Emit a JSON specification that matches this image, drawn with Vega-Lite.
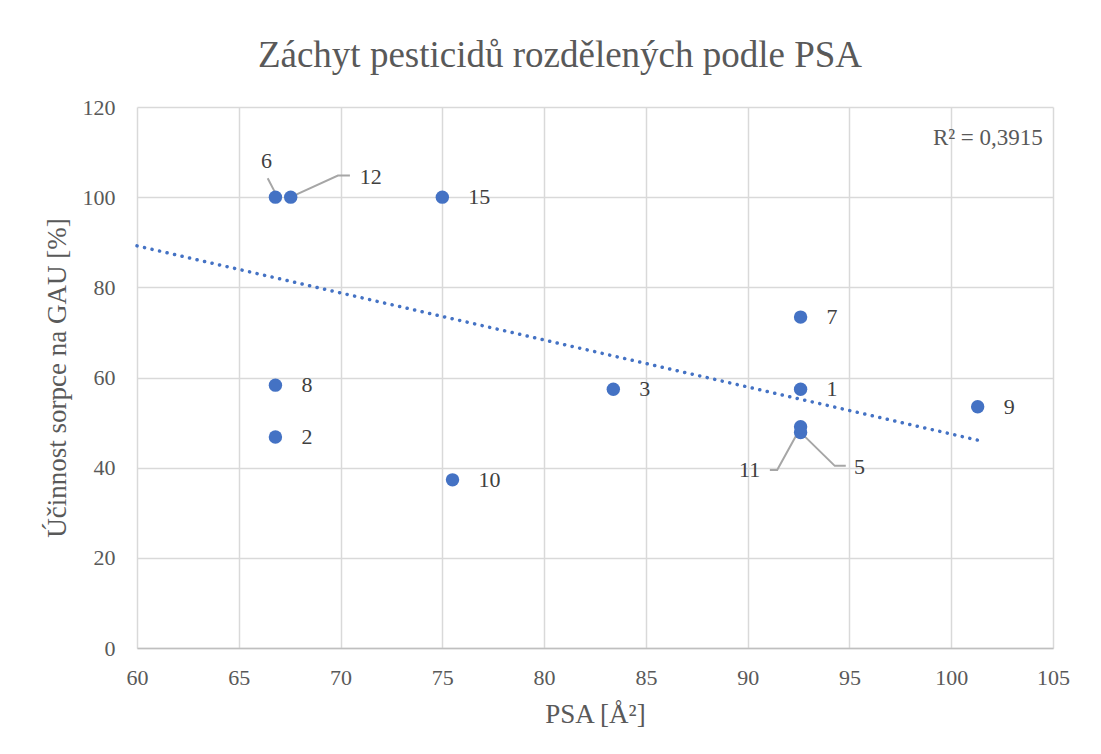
{
  "$schema": "https://vega.github.io/schema/vega-lite/v6.json",
  "width": 916,
  "height": 541,
  "autosize": {"type": "none"},
  "padding": {"left": 137, "top": 107, "right": 48, "bottom": 106},
  "background": "white",
  "config": {
    "font": "Liberation Serif",
    "view": {"stroke": null},
    "axis": {
      "gridColor": "#d9d9d9",
      "gridWidth": 1.5,
      "ticks": false,
      "labelFont": "Liberation Serif",
      "labelFontSize": 22,
      "labelColor": "#595959",
      "labelFlush": false,
      "titleFont": "Liberation Serif",
      "titleFontSize": 27,
      "titleFontWeight": "normal",
      "titleColor": "#595959"
    }
  },
  "title": {
    "text": "Záchyt pesticidů rozdělených podle PSA",
    "font": "Liberation Serif",
    "fontSize": 37,
    "fontWeight": "normal",
    "color": "#595959",
    "anchor": "middle",
    "dx": -35,
    "offset": 21
  },
  "datasets": {
    "points": [
      {"id": "1", "psa": 92.6, "u": 57.4},
      {"id": "2", "psa": 66.8, "u": 46.8},
      {"id": "3", "psa": 83.4, "u": 57.4},
      {"id": "5", "psa": 92.6, "u": 47.8},
      {"id": "6", "psa": 66.8, "u": 100},
      {"id": "7", "psa": 92.6, "u": 73.4},
      {"id": "8", "psa": 66.8, "u": 58.3},
      {"id": "9", "psa": 101.3, "u": 53.5},
      {"id": "10", "psa": 75.5, "u": 37.3},
      {"id": "11", "psa": 92.6, "u": 49.1},
      {"id": "12", "psa": 67.55, "u": 100},
      {"id": "15", "psa": 75.0, "u": 100}
    ],
    "trend": [
      {"psa": 60, "u": 89.2},
      {"psa": 101.3, "u": 46.1}
    ],
    "rsq": [
      {"psa": 101.8, "u": 113.1, "t": "R² = 0,3915"}
    ],
    "leaders": [
      {"g": "6", "o": 1, "psa": 66.42, "u": 104.2},
      {"g": "6", "o": 2, "psa": 66.8, "u": 100.9},
      {"g": "12", "o": 1, "psa": 70.46, "u": 104.8},
      {"g": "12", "o": 2, "psa": 69.87, "u": 104.8},
      {"g": "12", "o": 3, "psa": 67.6, "u": 100.1},
      {"g": "11", "o": 1, "psa": 91.09, "u": 39.5},
      {"g": "11", "o": 2, "psa": 91.45, "u": 39.5},
      {"g": "11", "o": 3, "psa": 92.6, "u": 48.9},
      {"g": "5", "o": 1, "psa": 94.82, "u": 40.4},
      {"g": "5", "o": 2, "psa": 94.28, "u": 40.4},
      {"g": "5", "o": 3, "psa": 92.65, "u": 47.6}
    ]
  },
  "encoding": {
    "x": {
      "field": "psa",
      "type": "quantitative",
      "scale": {"domain": [60, 105], "nice": false, "zero": false},
      "axis": {
        "title": "PSA [Å²]",
        "values": [60, 65, 70, 75, 80, 85, 90, 95, 100, 105],
        "domain": true,
        "domainColor": "#bfbfbf",
        "domainWidth": 1.5,
        "labelPadding": 19,
        "titlePadding": 13
      }
    },
    "y": {
      "field": "u",
      "type": "quantitative",
      "scale": {"domain": [0, 120], "nice": false},
      "axis": {
        "title": "Účinnost sorpce na GAU [%]",
        "values": [0, 20, 40, 60, 80, 100, 120],
        "domain": false,
        "labelPadding": 22,
        "titlePadding": 11
      }
    }
  },
  "layer": [
    {
      "data": {"name": "trend"},
      "mark": {"type": "line", "color": "#4472C4", "strokeWidth": 3.5, "strokeCap": "round", "strokeDash": [0.1, 7.6]}
    },
    {
      "data": {"name": "leaders"},
      "mark": {"type": "line", "color": "#a6a6a6", "strokeWidth": 2},
      "encoding": {"detail": {"field": "g"}, "order": {"field": "o"}}
    },
    {
      "data": {"name": "points"},
      "mark": {"type": "circle", "size": 180, "color": "#4472C4", "opacity": 1}
    },
    {
      "data": {"name": "points"},
      "transform": [{"filter": "indexof(['5','6','11','12'], datum.id) < 0"}],
      "mark": {"type": "text", "align": "left", "baseline": "middle", "dx": 26, "fontSize": 22, "color": "#404040", "font": "Liberation Serif"},
      "encoding": {"text": {"field": "id"}}
    },
    {
      "data": {"name": "points"},
      "transform": [{"filter": "datum.id == '6'"}],
      "mark": {"type": "text", "align": "center", "baseline": "middle", "dx": -9, "dy": -36, "fontSize": 22, "color": "#404040", "font": "Liberation Serif"},
      "encoding": {"text": {"field": "id"}}
    },
    {
      "data": {"name": "points"},
      "transform": [{"filter": "datum.id == '12'"}],
      "mark": {"type": "text", "align": "center", "baseline": "middle", "dx": 80, "dy": -20, "fontSize": 22, "color": "#404040", "font": "Liberation Serif"},
      "encoding": {"text": {"field": "id"}}
    },
    {
      "data": {"name": "points"},
      "transform": [{"filter": "datum.id == '11'"}],
      "mark": {"type": "text", "align": "center", "baseline": "middle", "dx": -51, "dy": 43, "fontSize": 22, "color": "#404040", "font": "Liberation Serif"},
      "encoding": {"text": {"field": "id"}}
    },
    {
      "data": {"name": "points"},
      "transform": [{"filter": "datum.id == '5'"}],
      "mark": {"type": "text", "align": "center", "baseline": "middle", "dx": 59, "dy": 34, "fontSize": 22, "color": "#404040", "font": "Liberation Serif"},
      "encoding": {"text": {"field": "id"}}
    },
    {
      "data": {"name": "rsq"},
      "mark": {"type": "text", "align": "center", "baseline": "middle", "fontSize": 23, "color": "#595959", "font": "Liberation Serif"},
      "encoding": {"text": {"field": "t"}}
    }
  ]
}
